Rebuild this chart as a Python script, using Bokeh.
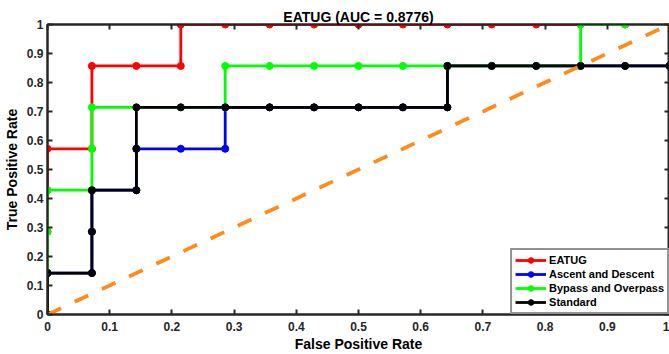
from bokeh.plotting import figure
from bokeh.models import Range1d, FixedTicker, LinearAxis, Legend, LegendItem
from bokeh.embed import file_html
from bokeh.resources import INLINE

# ---- data ----
eatug_x = [0, 0, 0, 0, 0, 0.0714, 0.0714, 0.1429, 0.2143, 0.2143, 0.2857, 0.3571, 0.4286,
           0.5, 0.5714, 0.6429, 0.7143, 0.7857, 0.8571, 0.9286]
eatug_y = [0, 0.1429, 0.2857, 0.4286, 0.5714, 0.5714, 0.8571, 0.8571, 0.8571, 1, 1, 1, 1,
           1, 1, 1, 1, 1, 1, 1]

ascent_x = [0, 0, 0.0714, 0.0714, 0.0714, 0.1429, 0.1429, 0.2143, 0.2857, 0.2857, 0.3571,
            0.4286, 0.5, 0.5714, 0.6429, 0.6429, 0.7143, 0.7857, 0.8571, 0.9286, 1]
ascent_y = [0, 0.1429, 0.1429, 0.2857, 0.4286, 0.4286, 0.5714, 0.5714, 0.5714, 0.7143, 0.7143,
            0.7143, 0.7143, 0.7143, 0.7143, 0.8571, 0.8571, 0.8571, 0.8571, 0.8571, 0.8571]

bypass_x = [0, 0, 0, 0, 0.0714, 0.0714, 0.0714, 0.1429, 0.2143, 0.2857, 0.2857, 0.3571, 0.4286,
            0.5, 0.5714, 0.6429, 0.6429, 0.7143, 0.7857, 0.8571, 0.8571, 0.9286]
bypass_y = [0, 0.1429, 0.2857, 0.4286, 0.4286, 0.5714, 0.7143, 0.7143, 0.7143, 0.7143, 0.8571,
            0.8571, 0.8571, 0.8571, 0.8571, 0.8571, 0.8571, 0.8571, 0.8571, 0.8571, 1, 1]

standard_x = [0, 0, 0.0714, 0.0714, 0.0714, 0.1429, 0.1429, 0.1429, 0.2143, 0.2857, 0.3571,
              0.4286, 0.5, 0.5714, 0.6429, 0.6429, 0.7143, 0.7857, 0.8571, 0.9286, 1]
standard_y = [0, 0.1429, 0.1429, 0.2857, 0.4286, 0.4286, 0.5714, 0.7143, 0.7143, 0.7143, 0.7143,
              0.7143, 0.7143, 0.7143, 0.7143, 0.8571, 0.8571, 0.8571, 0.8571, 0.8571, 0.8571]

chance_x = [0, 1]
chance_y = [0, 1]

series_names = ["EATUG", "Ascent and Descent", "Bypass and Overpass", "Standard"]
series_colors = ["#FF0000", "#0000FF", "#00FF00", "#000000"]
tick_values = [0, 0.1, 0.2, 0.3, 0.4, 0.5, 0.6, 0.7, 0.8, 0.9, 1]
tick_labels = ["0", "0.1", "0.2", "0.3", "0.4", "0.5", "0.6", "0.7", "0.8", "0.9", "1"]
title_text = "EATUG (AUC = 0.8776)"

FONT = "Liberation Sans"
AX = "#262626"

p = figure(width=669, height=354, output_backend="svg", toolbar_location=None,
           x_range=Range1d(0, 1), y_range=Range1d(0, 1),
           min_border_left=47, min_border_right=0, min_border_top=24, min_border_bottom=40)
p.background_fill_color = "white"
p.border_fill_color = "white"
p.grid.visible = False
p.outline_line_color = AX
p.outline_line_width = 2

p.title.text = title_text
p.title.align = "center"
p.title.text_font = FONT
p.title.text_font_size = "14px"
p.title.text_font_style = "bold"
p.title.text_color = "#000000"
p.title.offset = 0
p.title.standoff = 0

ticker = FixedTicker(ticks=tick_values)
overrides = {v: s for v, s in zip(tick_values, tick_labels)}
for ax in (p.xaxis[0], p.yaxis[0]):
    ax.ticker = ticker
    ax.major_label_overrides = overrides
    ax.major_tick_in = 5
    ax.major_tick_out = 0
    ax.minor_tick_in = 0
    ax.minor_tick_out = 0
    ax.axis_line_width = 2
    ax.axis_line_color = AX
    ax.major_tick_line_color = AX
    ax.major_tick_line_width = 2
    ax.major_label_text_font = FONT
    ax.major_label_text_font_style = "bold"
    ax.major_label_text_font_size = "12px"
    ax.major_label_text_color = AX
    ax.axis_label_text_font = FONT
    ax.axis_label_text_font_style = "bold"
    ax.axis_label_text_font_size = "14px"
    ax.axis_label_text_color = "#000000"
p.xaxis.major_label_standoff = 7
p.yaxis.major_label_standoff = 4
p.xaxis.axis_label = "False Positive Rate"
p.yaxis.axis_label = "True Positive Rate"
p.xaxis.axis_label_standoff = 2
p.yaxis.axis_label_standoff = 4

for loc in ("right", "above"):
    ax = LinearAxis(ticker=ticker, major_label_text_font_size="1px", major_label_text_color=None,
                    major_label_standoff=0,
                    major_tick_in=5, major_tick_out=0, minor_tick_in=0, minor_tick_out=0,
                    axis_line_width=2, axis_line_color=AX, major_tick_line_color=AX,
                    major_tick_line_width=2)
    p.add_layout(ax, loc)

items = []
data = [(eatug_x, eatug_y), (ascent_x, ascent_y), (bypass_x, bypass_y), (standard_x, standard_y)]
for (xs, ys), name, col in zip(data, series_names, series_colors):
    r1 = p.line(xs, ys, line_color=col, line_width=2.8)
    r2 = p.scatter(xs, ys, marker="circle", size=7, fill_color=col, line_color=col)
    items.append(LegendItem(label=name, renderers=[r1, r2]))

p.line(chance_x, chance_y, line_color="#FF8C1A", line_width=3.8, line_dash="15 15")

legend = Legend(items=items, location="bottom_right")
legend.label_text_font = FONT
legend.label_text_font_style = "bold"
legend.label_text_font_size = "11px"
legend.label_text_color = "#000000"
legend.label_height = 14
legend.glyph_height = 14
legend.glyph_width = 31
legend.label_standoff = 3
legend.spacing = 0
legend.padding = 3
legend.margin = 0
legend.border_line_color = AX
legend.border_line_width = 2
legend.background_fill_color = "white"
legend.background_fill_alpha = 1
p.add_layout(legend)

open("out.html", "w").write(file_html(p, INLINE))
